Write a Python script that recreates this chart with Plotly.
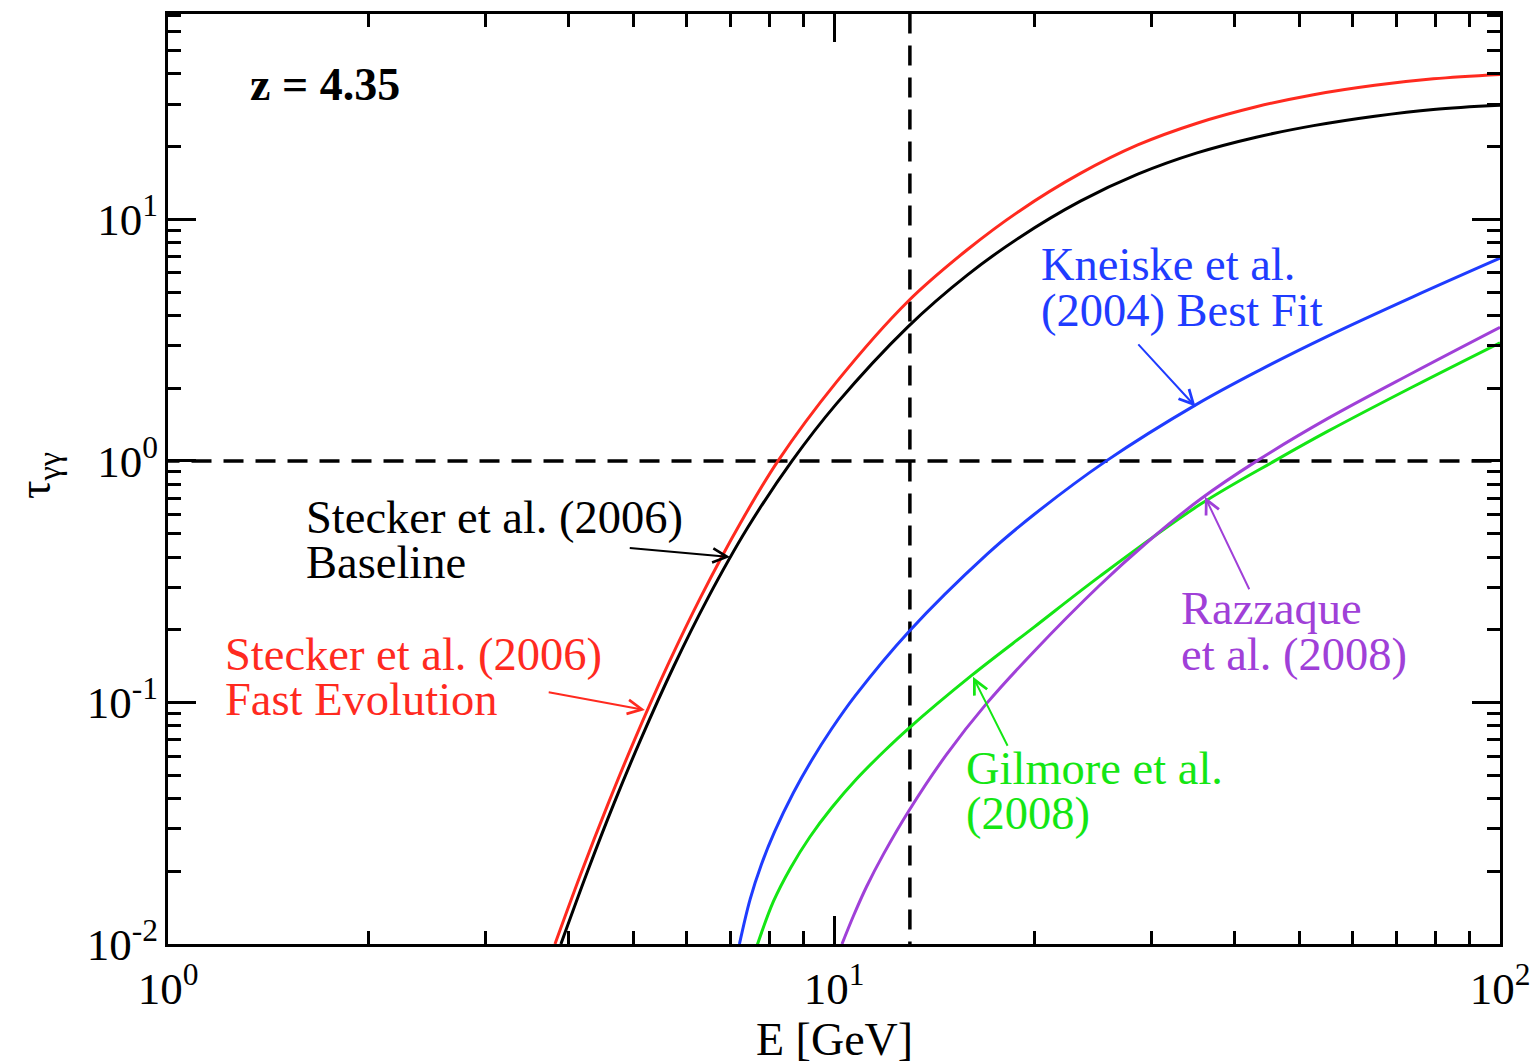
import numpy as np
import plotly.graph_objects as go

# ---------------- data ----------------
E_fast = [3.811, 4.169, 4.571, 5.012, 5.623, 6.310, 7.244, 8.241, 10.09, 12.91, 15.85, 18.97,
          23.44, 28.58, 35.08, 43.05, 52.48, 64.86, 79.43, 100.0]
tau_fast = [0.01000, 0.01959, 0.03758, 0.06950, 0.1419, 0.2735, 0.5559, 1.000, 2.123, 4.571, 7.482, 10.81,
            15.49, 20.32, 25.00, 29.24, 32.81, 35.89, 38.19, 39.81]

E_base = [3.890, 4.266, 4.677, 5.129, 5.754, 6.457, 7.413, 8.650, 10.09, 12.91, 15.85, 18.97,
          23.44, 28.58, 35.08, 43.05, 52.48, 64.86, 79.43, 100.0]
tau_base = [0.01000, 0.02000, 0.03837, 0.07047, 0.1422, 0.2685, 0.5272, 1.000, 1.726, 3.589, 5.875, 8.395,
            11.89, 15.38, 18.84, 21.88, 24.43, 26.73, 28.51, 29.65]

E_kneiske = [7.211, 7.482, 7.780, 8.147, 8.690, 9.268, 9.920, 10.75, 12.97, 16.98, 19.95, 25.64,
             35.08, 43.65, 54.95, 74.13, 100.0]
tau_kneiske = [0.01000, 0.01531, 0.02133, 0.02924, 0.04227, 0.05794, 0.07780, 0.1062, 0.1972, 0.4111,
               0.5984, 1.000, 1.718, 2.382, 3.269, 4.786, 6.902]

E_gilmore = [7.656, 8.110, 8.610, 9.204, 9.920, 10.81, 11.89, 12.91, 16.11, 19.95, 25.06, 35.48,
             46.24, 55.08, 74.13, 100.0]
tau_gilmore = [0.00977, 0.01500, 0.02070, 0.02780, 0.03664, 0.04819, 0.06281, 0.07762, 0.1297, 0.2046,
               0.3327, 0.6607, 1.012, 1.324, 2.032, 3.083]

E_razzaque = [10.28, 10.69, 11.19, 11.86, 12.97, 14.76, 16.94, 19.95, 25.06, 29.44, 35.48, 43.15,
              55.08, 74.13, 100.0]
tau_razzaque = [0.01000, 0.01303, 0.01726, 0.02350, 0.03581, 0.06095, 0.09886, 0.1622, 0.3055, 0.4571,
                0.6934, 1.000, 1.496, 2.323, 3.573]

E_photon = 13.0          # vertical dashed line
tau_unity = 1.0          # horizontal dashed line

x_tickvals = [1, 10, 100]
x_ticktext = ["10<sup>0</sup>", "10<sup>1</sup>", "10<sup>2</sup>"]
y_tickvals = [0.01, 0.1, 1, 10]
y_ticktext = ["10<sup>-2</sup>", "10<sup>-1</sup>", "10<sup>0</sup>", "10<sup>1</sup>"]
x_minor = [2, 3, 4, 5, 6, 7, 8, 9, 20, 30, 40, 50, 60, 70, 80, 90]
y_minor = [0.02, 0.03, 0.04, 0.05, 0.06, 0.07, 0.08, 0.09,
           0.2, 0.3, 0.4, 0.5, 0.6, 0.7, 0.8, 0.9,
           2, 3, 4, 5, 6, 7, 8, 9, 20, 30, 40, 50, 60, 70]

# arrows: (head E, head tau, tail E, tail tau)
arrow_base = (6.98, 0.400, 4.91, 0.4365)
arrow_fast = (5.20, 0.0931, 3.71, 0.1104)
arrow_kneiske = (34.9, 1.678, 28.5, 3.08)
arrow_razzaque = (36.06, 0.710, 42.13, 0.290)
arrow_gilmore = (16.17, 0.1276, 18.27, 0.0652)

RED = "#ff2a1f"
BLUE = "#1f3cff"
GREEN = "#14e614"
PURPLE = "#a040d8"
BLACK = "#000000"
FONT = "Liberation Serif"

W, H = 1534, 1063
ML, MR, MT, MB = 168, 34, 14, 119
PW, PH = W - ML - MR, H - MT - MB

fig = go.Figure()

# dashed reference lines
fig.add_trace(go.Scatter(x=[0.5, 200], y=[tau_unity, tau_unity], mode="lines",
                         line=dict(color="black", width=3.5, dash="20px,12px"),
                         hoverinfo="skip", showlegend=False))
fig.add_trace(go.Scatter(x=[E_photon, E_photon], y=[0.001, 1000], mode="lines",
                         line=dict(color="black", width=3.5, dash="20px,12px"),
                         hoverinfo="skip", showlegend=False))

for E, tau, col in [(E_fast, tau_fast, RED), (E_base, tau_base, BLACK),
                    (E_kneiske, tau_kneiske, BLUE), (E_gilmore, tau_gilmore, GREEN),
                    (E_razzaque, tau_razzaque, PURPLE)]:
    fig.add_trace(go.Scatter(x=E, y=tau, mode="lines",
                             line=dict(color=col, width=3, shape="spline", smoothing=1.0),
                             showlegend=False))

annotations = []


def label(text, px, baseline, color, size=46.5, bold=False):
    mid = baseline - 0.34 * size
    annotations.append(dict(
        text=("<b>%s</b>" % text) if bold else text,
        x=(px - ML) / PW, y=(H - MB - mid) / PH, xref="paper", yref="paper",
        xanchor="left", yanchor="middle", showarrow=False, borderpad=0,
        font=dict(family=FONT, size=size, color=color)))


label("Stecker et al. (2006)", 305, 533, BLACK)
label("Baseline", 305, 578, BLACK)
label("Stecker et al. (2006)", 224, 670, RED)
label("Fast Evolution", 224, 715, RED)
label("Kneiske et al.", 1040, 280, BLUE)
label("(2004) Best Fit", 1040, 326, BLUE)
label("Razzaque", 1180, 624, PURPLE)
label("et al. (2008)", 1180, 670, PURPLE)
label("Gilmore et al.", 965, 784, GREEN)
label("(2008)", 965, 829, GREEN)
label("z = 4.35", 249, 100, BLACK, size=46, bold=True)

for (hx, hy, tx, ty), col in [(arrow_base, BLACK), (arrow_fast, RED), (arrow_kneiske, BLUE),
                              (arrow_razzaque, PURPLE), (arrow_gilmore, GREEN)]:
    annotations.append(dict(
        x=np.log10(hx), y=np.log10(hy), ax=np.log10(tx), ay=np.log10(ty),
        xref="x", yref="y", axref="x", ayref="y", text="", showarrow=True,
        arrowhead=5, arrowsize=1.4, arrowwidth=2, arrowcolor=col, standoff=0, startstandoff=0))

# axis titles
annotations.append(dict(text="E [GeV]", x=(834 - ML) / PW, y=(H - MB - 1039) / PH,
                        xref="paper", yref="paper", xanchor="center", yanchor="middle",
                        showarrow=False, font=dict(family=FONT, size=46, color="black")))
annotations.append(dict(text="τ<sub>γγ</sub>", x=(38 - ML) / PW, y=(H - MB - 476) / PH,
                        xref="paper", yref="paper", xanchor="center", yanchor="middle",
                        textangle=-90, showarrow=False,
                        font=dict(family=FONT, size=46, color="black")))

axis_common = dict(type="log", ticks="inside", ticklen=28, tickwidth=3, tickcolor="black",
                   showline=True, linewidth=3, linecolor="black", mirror="allticks",
                   showgrid=False, zeroline=False, automargin=False,
                   tickfont=dict(family=FONT, size=45, color="black"))

fig.update_layout(
    width=W, height=H,
    margin=dict(l=ML, r=MR, t=MT, b=MB),
    paper_bgcolor="white", plot_bgcolor="white",
    showlegend=False,
    xaxis=dict(range=[0, 2], tickvals=x_tickvals, ticktext=x_ticktext,
               ticklabelstandoff=3,
               minor=dict(tickvals=x_minor, ticks="inside", ticklen=13, tickwidth=3,
                          tickcolor="black", showgrid=False),
               **axis_common),
    yaxis=dict(range=[-2, 1.85], tickvals=y_tickvals, ticktext=y_ticktext,
               ticklabelstandoff=-2,
               minor=dict(tickvals=y_minor, ticks="inside", ticklen=13, tickwidth=3,
                          tickcolor="black", showgrid=False),
               **axis_common),
    annotations=annotations,
)

fig.write_html("out.html", config={"displayModeBar": False},
               post_script="document.body.style.margin='0';")
